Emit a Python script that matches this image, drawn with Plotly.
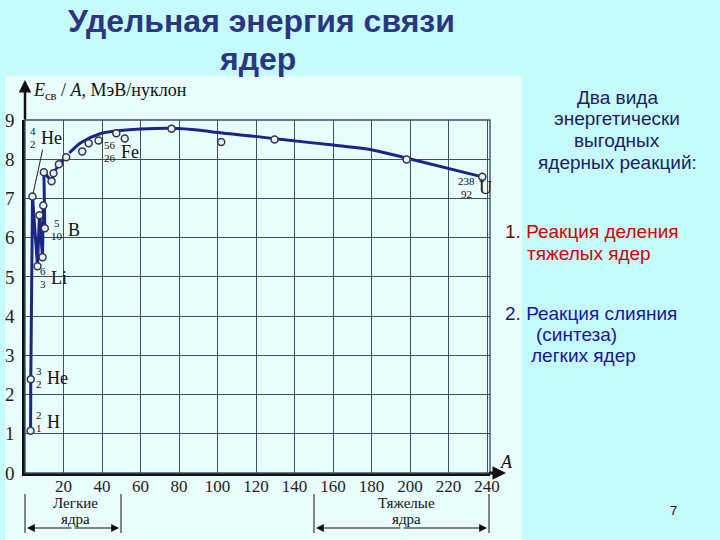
import plotly.graph_objects as go

# nuclides plotted as open circles (mass number A, binding energy per nucleon)
point_A = [2.9, 3.0, 3.9, 6.5, 7.5, 9.1, 9.5, 10.3, 9.8, 13.8, 14.8, 17.6, 21.4,
           29.7, 33.1, 38.2, 47.4, 51.8, 76.1, 101.9, 129.6, 198.2, 237.5]
point_E = [1.08, 2.39, 7.05, 5.27, 6.57, 5.50, 6.82, 6.24, 7.67, 7.44, 7.64, 7.87, 8.05,
           8.20, 8.41, 8.48, 8.66, 8.53, 8.78, 8.44, 8.50, 7.99, 7.55]

# jagged part of the curve for light nuclei
light_A = [2.9, 3.0, 3.9, 6.5, 7.5, 9.1, 9.5, 10.3, 9.8, 13.8, 14.8, 17.6, 21.4]
light_E = [1.08, 2.39, 7.05, 5.27, 6.57, 5.50, 6.82, 6.24, 7.67, 7.44, 7.64, 7.87, 8.05]

# smooth part of the curve
smooth_A = [23, 29, 39, 47, 60, 76, 91, 100, 122, 130, 160, 181, 198, 237.5]
smooth_E = [8.16, 8.42, 8.65, 8.72, 8.77, 8.79, 8.74, 8.68, 8.57, 8.52, 8.36, 8.23, 8.03, 7.55]

x_ticks = [20, 40, 60, 80, 100, 120, 140, 160, 180, 200, 220, 240]
y_ticks = [0, 1, 2, 3, 4, 5, 6, 7, 8, 9]

title_lines = ["Удельная энергия связи", "ядер"]
side_text = ["Два вида", "энергетически", "выгодных", "ядерных реакций:"]

# plot area in pixels
W, H = 720, 540
L, T, PW, PH = 25, 120, 465, 353
X_MAX = 241.5

def px(xp, yp):
    # figure pixel -> paper coords of the plot area
    return (xp - L) / PW, (T + PH - yp) / PH

fig = go.Figure()

line_col = "#1c2585"
fig.add_trace(go.Scatter(x=light_A, y=light_E, mode="lines",
                         line=dict(color=line_col, width=3), hoverinfo="skip"))
fig.add_trace(go.Scatter(x=smooth_A, y=smooth_E, mode="lines",
                         line=dict(color=line_col, width=3, shape="spline", smoothing=0.8),
                         hoverinfo="skip"))
fig.add_trace(go.Scatter(x=point_A, y=point_E, mode="markers",
                         marker=dict(symbol="circle", size=7, color="#e4f2fb",
                                     line=dict(color="#333844", width=1.5))))

serif = "Liberation Serif, Times New Roman, serif"
sans = "Liberation Sans, Arial, sans-serif"
grid_col = "#3b5060"

fig.update_xaxes(range=[0, X_MAX], tickvals=x_ticks, ticks="", showgrid=True,
                 gridcolor=grid_col, gridwidth=1.4, zeroline=False, automargin=False,
                 showline=True, linecolor="#111", linewidth=3, ticklabelstandoff=-4,
                 tickfont=dict(family=serif, size=17, color="#222"), fixedrange=True)
fig.update_yaxes(range=[0, 9], tickvals=y_ticks, ticks="", showgrid=True,
                 gridcolor=grid_col, gridwidth=1.4, zeroline=False, automargin=False,
                 showline=True, linecolor="#111", linewidth=2.5, ticklabelstandoff=4,
                 tickfont=dict(family=serif, size=19, color="#222"), fixedrange=True)

shapes = []
# lighter panel behind the scanned graph
shapes.append(dict(type="rect", xref="paper", yref="paper", layer="below",
                   x0=px(5, 0)[0], x1=px(522, 0)[0], y0=px(0, 540)[1], y1=px(0, 76)[1],
                   fillcolor="#e9fdfd", line_width=0))
# right and top border of the grid
shapes.append(dict(type="rect", xref="paper", yref="paper", x0=0, x1=1, y0=0, y1=1,
                   line=dict(color=grid_col, width=1.4)))

# brackets for light and heavy nuclei
def bracket(x0, x1):
    out = []
    for xx in (x0, x1):
        a, b0 = px(xx, 494)
        _, b1 = px(xx, 533)
        out.append(dict(type="line", xref="paper", yref="paper", x0=a, x1=a, y0=b0, y1=b1,
                        line=dict(color="#111", width=1)))
    return out

shapes += bracket(25, 121)
shapes += bracket(314, 489)
fig.update_layout(shapes=shapes)

ann = []

def arrow(x_head, y_head, x_tail, y_tail, width=1.2, size=1.2):
    hx, hy = px(x_head, y_head)
    ann.append(dict(xref="paper", yref="paper", x=hx, y=hy, text="", showarrow=True,
                    axref="pixel", ayref="pixel", ax=x_tail - x_head, ay=y_tail - y_head,
                    arrowhead=2, arrowsize=size, arrowwidth=width, arrowcolor="#111"))

def text(xp, yp, s, size=17, family=serif, color="#111", anchor="center"):
    a, b = px(xp, yp)
    ann.append(dict(xref="paper", yref="paper", x=a, y=b, text=s, showarrow=False,
                    xanchor=anchor, yanchor="middle",
                    font=dict(family=family, size=size, color=color)))

# axis arrows
arrow(25, 80, 25, 121, width=2.5, size=1.0)
arrow(506, 473, 488, 473, width=3, size=0.9)
text(31, 92, "<i>E</i><sub>св</sub> / <i>A</i>, МэВ/нуклон", size=18, anchor="left")
text(506, 462, "<i>A</i>", size=18)

# bracket arrows and labels
arrow(27, 528, 73, 528, width=1.2, size=1.3)
arrow(119, 528, 73, 528, width=1.2, size=1.3)
arrow(316, 528, 402, 528, width=1.2, size=1.3)
arrow(487, 528, 402, 528, width=1.2, size=1.3)
text(75, 503, "Легкие", size=15)
text(75, 519, "ядра", size=15)
text(406, 503, "Тяжелые", size=15)
text(406, 519, "ядра", size=15)

# nuclide labels: mass number, charge, symbol
def nuclide(xp, yp, mass, charge, sym, dx=0):
    text(xp, yp - 7, mass, size=11)
    text(xp, yp + 6, charge, size=11)
    text(xp + 6 + dx, yp, sym, size=18, anchor="left")

nuclide(33, 138, "4", "2", "He")
nuclide(110, 152, "56", "26", "Fe", dx=3)
nuclide(57, 230, "5", "10", "B", dx=3)
nuclide(43, 278, "6", "3", "Li")
nuclide(39, 378, "3", "2", "He")
nuclide(39, 422, "2", "1", "H")
nuclide(466, 188, "238", "92", "U", dx=5)
# pointer from He label to He-4
ha, hb = px(33, 194)
ann.append(dict(xref="paper", yref="paper", x=ha, y=hb, text="", showarrow=True,
                axref="pixel", ayref="pixel", ax=10, ay=-46, arrowhead=0,
                arrowwidth=1, arrowcolor="#222"))

# title
title_col = "#2b367e"
text(261, 21, "<b>" + title_lines[0] + "</b>", size=32, family=sans, color=title_col)
text(257, 59, "<b>" + title_lines[1] + "</b>", size=32, family=sans, color=title_col)

# side text
navy = "#1c1c60"
for i, s in enumerate(side_text):
    text(617, 97 + i * 21.7, s, size=19, family=sans, color=navy)
text(503, 231, "<span style='color:#6a1010'>1.</span> Реакция деления", size=19,
     family=sans, color="#d40000", anchor="left")
text(525, 253, "тяжелых ядер", size=19, family=sans, color="#d40000", anchor="left")
text(503, 313, "<span style='color:#1c1c60'>2.</span> Реакция слияния", size=19,
     family=sans, color="#1616a0", anchor="left")
text(534, 334, "(синтеза)", size=19, family=sans, color="#1616a0", anchor="left")
text(529, 355, "легких ядер", size=19, family=sans, color="#1616a0", anchor="left")
text(673, 510, "7", size=13, family=sans, color="#111")

fig.update_layout(
    width=W, height=H,
    margin=dict(l=L, r=W - L - PW, t=T, b=H - T - PH),
    paper_bgcolor="#c6fbfb",
    plot_bgcolor="#cde6f8",
    showlegend=False,
    annotations=ann,
)

# the page's default body margin would shift the figure by 8 px
fig.write_html("out.html", config={"displayModeBar": False},
               post_script="document.body.style.margin='0px';")
